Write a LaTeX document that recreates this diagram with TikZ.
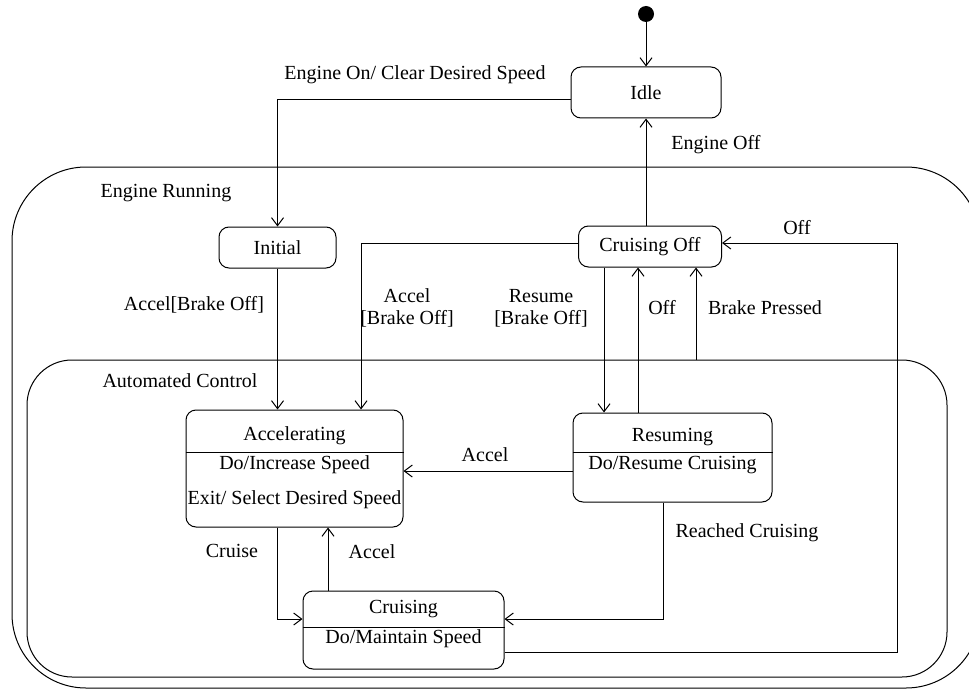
\documentclass[tikz,border=0pt]{standalone}
\usepackage{fontspec}
\setmainfont{Liberation Serif}
\usetikzlibrary{arrows.meta}

\begin{document}
\begin{tikzpicture}[
    x=0.5pt, y=-0.5pt,
    line width=0.5pt,
    font=\fontsize{10}{12}\selectfont,
    state/.style={draw, rounded corners=5pt, inner sep=0pt},
    region/.style={draw, inner sep=0pt},
    arr/.style={-{Straight Barb[length=4pt,width=6pt]}},
    lbl/.style={inner sep=1pt, align=center}
]
\clip (0,0) rectangle (969,690);

% regions
\node[region, rounded corners=37pt, minimum width=484pt, minimum height=260.5pt] (running) at (496,427.5) {};
\node[region, rounded corners=22.5pt, minimum width=460pt, minimum height=158.5pt] (auto) at (487,518.5) {};
\node[lbl] (runlbl) at (166,193) {Engine Running};
\node[lbl] (autolbl) at (180,381) {Automated Control};

% states
\node[circle, fill, inner sep=0pt, minimum size=8pt] (start) at (646,14) {};
\node[state, minimum width=75pt, minimum height=25.5pt] (idle) at (646,92.5) {Idle};
\node[state, minimum width=58.5pt, minimum height=20.5pt] (initial) at (277.5,247.5) {Initial};
\node[state, minimum width=71.5pt, minimum height=20.5pt] (coff) at (650,246.5) {Cruising Off};

\node[state, minimum width=108.5pt, minimum height=58.5pt] (acc) at (294.5,468.5) {};
\draw (acc.west |- 0,452) -- (acc.east |- 0,452);
\node[lbl] (acctitle) at (294.5,436) {Accelerating};
\node[lbl] (accdo) at (294.5,465) {Do/Increase Speed};
\node[lbl] (accexit) at (294.5,500) {Exit/ Select Desired Speed};

\node[state, minimum width=99.5pt, minimum height=44.5pt] (res) at (672.5,457.5) {};
\draw (res.west |- 0,452) -- (res.east |- 0,452);
\node[lbl] (restitle) at (672.5,437) {Resuming};
\node[lbl] (resdo) at (672.5,465) {Do/Resume Cruising};

\node[state, minimum width=100.5pt, minimum height=39pt] (cru) at (403.5,630) {};
\draw (cru.west |- 0,627) -- (cru.east |- 0,627);
\node[lbl] (crutitle) at (403.5,609) {Cruising};
\node[lbl] (crudo) at (403.5,639) {Do/Maintain Speed};

% transitions
\coordinate (offturn) at (897,400);
\draw[arr] (start) -- (idle.north);
\draw[arr] ([yshift=-3.75pt]idle.west) -| (initial.north);
\draw[arr] (idle.south |- coff.north) -- (idle.south);
\draw[arr] (initial.south) -- (initial.south |- acc.north);
\draw[arr] ([yshift=1.75pt]coff.west) -| ([xshift=33.25pt]acc.north);
\draw[arr] ([xshift=-23pt]coff.south) -- ([xshift=-23pt]coff.south |- res.north);
\draw[arr] ([xshift=-6pt]coff.south |- res.north) -- ([xshift=-6pt]coff.south);
\draw[arr] ([xshift=23pt]coff.south |- auto.north) -- ([xshift=23pt]coff.south);
\draw[arr] ([yshift=-11pt]cru.east) -| (offturn) |- ([yshift=1.75pt]coff.east);
\draw[arr] ([yshift=-6.75pt]res.west) -- ([yshift=-6.75pt]res.west -| acc.east);
\draw[arr] ([xshift=-4.75pt]res.south) |- ([yshift=5.5pt]cru.east);
\draw[arr] ([xshift=-8.75pt]acc.south) |- ([yshift=5.5pt]cru.west);
\draw[arr] ([xshift=16.75pt]acc.south |- cru.north) -- ([xshift=16.75pt]acc.south);

% transition labels
\node[lbl] (l1) at (415,75) {Engine On/ Clear Desired Speed};
\node[lbl] (l2) at (716,145) {Engine Off};
\node[lbl] (l3) at (194,305) {Accel[Brake Off]};
\node[lbl] (l4) at (407,308) {Accel\\[-1pt][Brake Off]};
\node[lbl] (l5) at (541,308) {Resume\\[-1pt][Brake Off]};
\node[lbl] (l6) at (662,308) {Off};
\node[lbl] (l7) at (765,308) {Brake Pressed};
\node[lbl] (l8) at (797,228) {Off};
\node[lbl] (l9) at (485,455) {Accel};
\node[lbl] (l10) at (747,533) {Reached Cruising};
\node[lbl] (l11) at (232,551) {Cruise};
\node[lbl] (l12) at (372,552) {Accel};
\end{tikzpicture}
\end{document}
